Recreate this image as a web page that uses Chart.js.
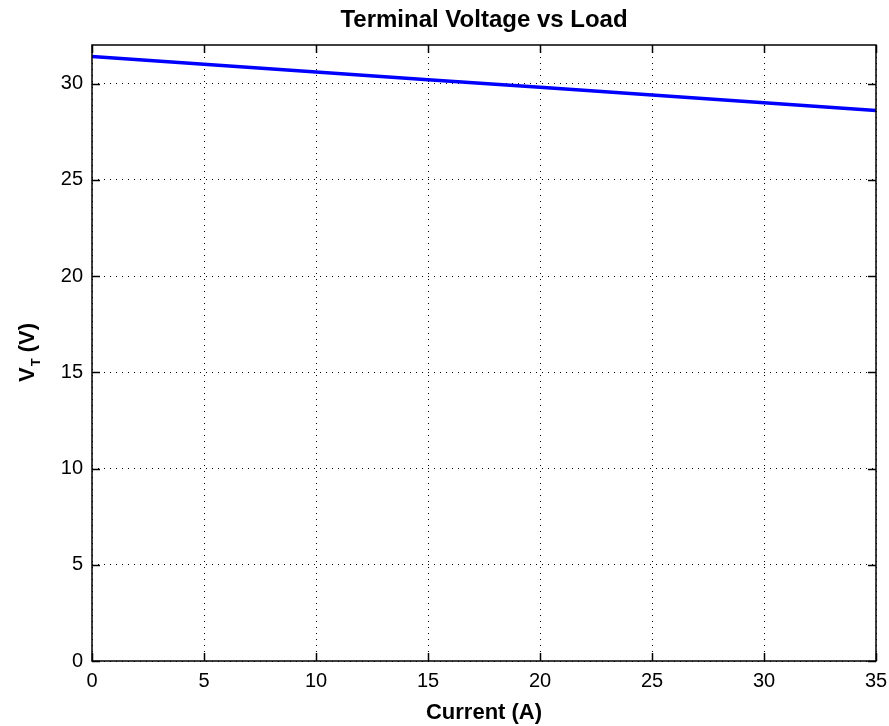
<!DOCTYPE html>
<html>
<head>
<meta charset="utf-8">
<title>Terminal Voltage vs Load</title>
<script src="https://cdn.jsdelivr.net/npm/chart.js@4/dist/chart.umd.min.js"></script>
<style>
  html, body { margin: 0; padding: 0; background: #fff; }
  #wrap { width: 889px; height: 726px; position: relative; }
</style>
</head>
<body>
<div id="wrap"><canvas id="vtChart"></canvas></div>
<script>
// Data
const currents = [0, 5, 10, 15, 20, 25, 30, 35]
const voltages = [31.4, 31.0, 30.6, 30.2, 29.8, 29.4, 29.0, 28.6]
const xTicks = [0, 5, 10, 15, 20, 25, 30, 35]
const yTicks = [0, 5, 10, 15, 20, 25, 30]

const FONT = "'Liberation Sans', Arial, sans-serif"

// Box, inward tick marks and the texts (MATLAB style)
const matlabFrame = {
  id: 'matlabFrame',
  afterDatasetsDraw(chart) {
    const { ctx, chartArea: a, scales } = chart
    ctx.save()
    ctx.strokeStyle = '#000'
    ctx.lineWidth = 1.5
    ctx.setLineDash([])
    ctx.strokeRect(a.left, a.top, a.right - a.left, a.bottom - a.top)

    const tl = 8
    ctx.beginPath()
    xTicks.forEach(v => {
      const x = Math.round(scales.x.getPixelForValue(v)) + 0.5
      ctx.moveTo(x, a.bottom); ctx.lineTo(x, a.bottom - tl)
      ctx.moveTo(x, a.top); ctx.lineTo(x, a.top + tl)
    })
    yTicks.forEach(v => {
      const y = Math.round(scales.y.getPixelForValue(v)) + 0.5
      ctx.moveTo(a.left, y); ctx.lineTo(a.left + tl, y)
      ctx.moveTo(a.right, y); ctx.lineTo(a.right - tl, y)
    })
    ctx.stroke()

    // title
    ctx.fillStyle = '#000'
    ctx.textAlign = 'center'
    ctx.textBaseline = 'middle'
    ctx.font = 'bold 24px ' + FONT
    ctx.fillText('Terminal Voltage vs Load', (a.left + a.right) / 2, 20)

    // x label
    ctx.font = 'bold 22px ' + FONT
    ctx.fillText('Current (A)', (a.left + a.right) / 2, 713)

    // y label with subscript
    const cy = (a.top + a.bottom) / 2
    ctx.translate(27, cy)
    ctx.rotate(-Math.PI / 2)
    const big = 'bold 22px ' + FONT
    const small = 'bold 13px ' + FONT
    ctx.font = big
    const wV = ctx.measureText('V').width
    const wRest = ctx.measureText(' (V)').width
    ctx.font = small
    const wT = ctx.measureText('T').width
    const x0 = -(wV + wT + wRest) / 2
    ctx.textAlign = 'left'
    ctx.textBaseline = 'alphabetic'
    ctx.font = big
    ctx.fillText('V', x0, 7)
    ctx.font = small
    ctx.fillText('T', x0 + wV + 1, 13)
    ctx.font = big
    ctx.fillText(' (V)', x0 + wV + wT + 1, 7)
    ctx.restore()
  }
}

const ctx = document.getElementById('vtChart').getContext('2d')
new Chart(ctx, {
  type: 'line',
  data: {
    datasets: [{
      label: 'V_T',
      data: currents.map((c, i) => ({ x: c, y: voltages[i] })),
      borderColor: '#0000ff',
      borderWidth: 3.5,
      pointRadius: 0,
      tension: 0,
      fill: false
    }]
  },
  options: {
    responsive: true,
    maintainAspectRatio: false,
    animation: false,
    layout: { padding: { left: 0, right: 13, top: 45, bottom: 0 } },
    plugins: {
      legend: { display: false },
      title: { display: false },
      tooltip: { enabled: false }
    },
    scales: {
      x: {
        type: 'linear',
        min: 0,
        max: 35,
        afterBuildTicks: s => { s.ticks = xTicks.map(v => ({ value: v })) },
        afterFit: s => {
          s.height = 726 - 661
          s.paddingLeft = 0
          s.paddingRight = 0
        },
        grid: { color: '#000', lineWidth: 1, drawTicks: false },
        border: { display: false, dash: [1, 5] },
        ticks: { color: '#000', padding: 8, maxRotation: 0, font: { family: FONT, size: 20 } }
      },
      y: {
        type: 'linear',
        min: 0,
        max: 32,
        afterBuildTicks: s => { s.ticks = yTicks.map(v => ({ value: v })) },
        afterFit: s => {
          s.width = 92
          s.paddingTop = 0
          s.paddingBottom = 0
        },
        grid: { color: '#000', lineWidth: 1, drawTicks: false },
        border: { display: false, dash: [1, 5] },
        ticks: { color: '#000', padding: 9, font: { family: FONT, size: 20 } }
      }
    }
  },
  plugins: [matlabFrame]
})
</script>
</body>
</html>
